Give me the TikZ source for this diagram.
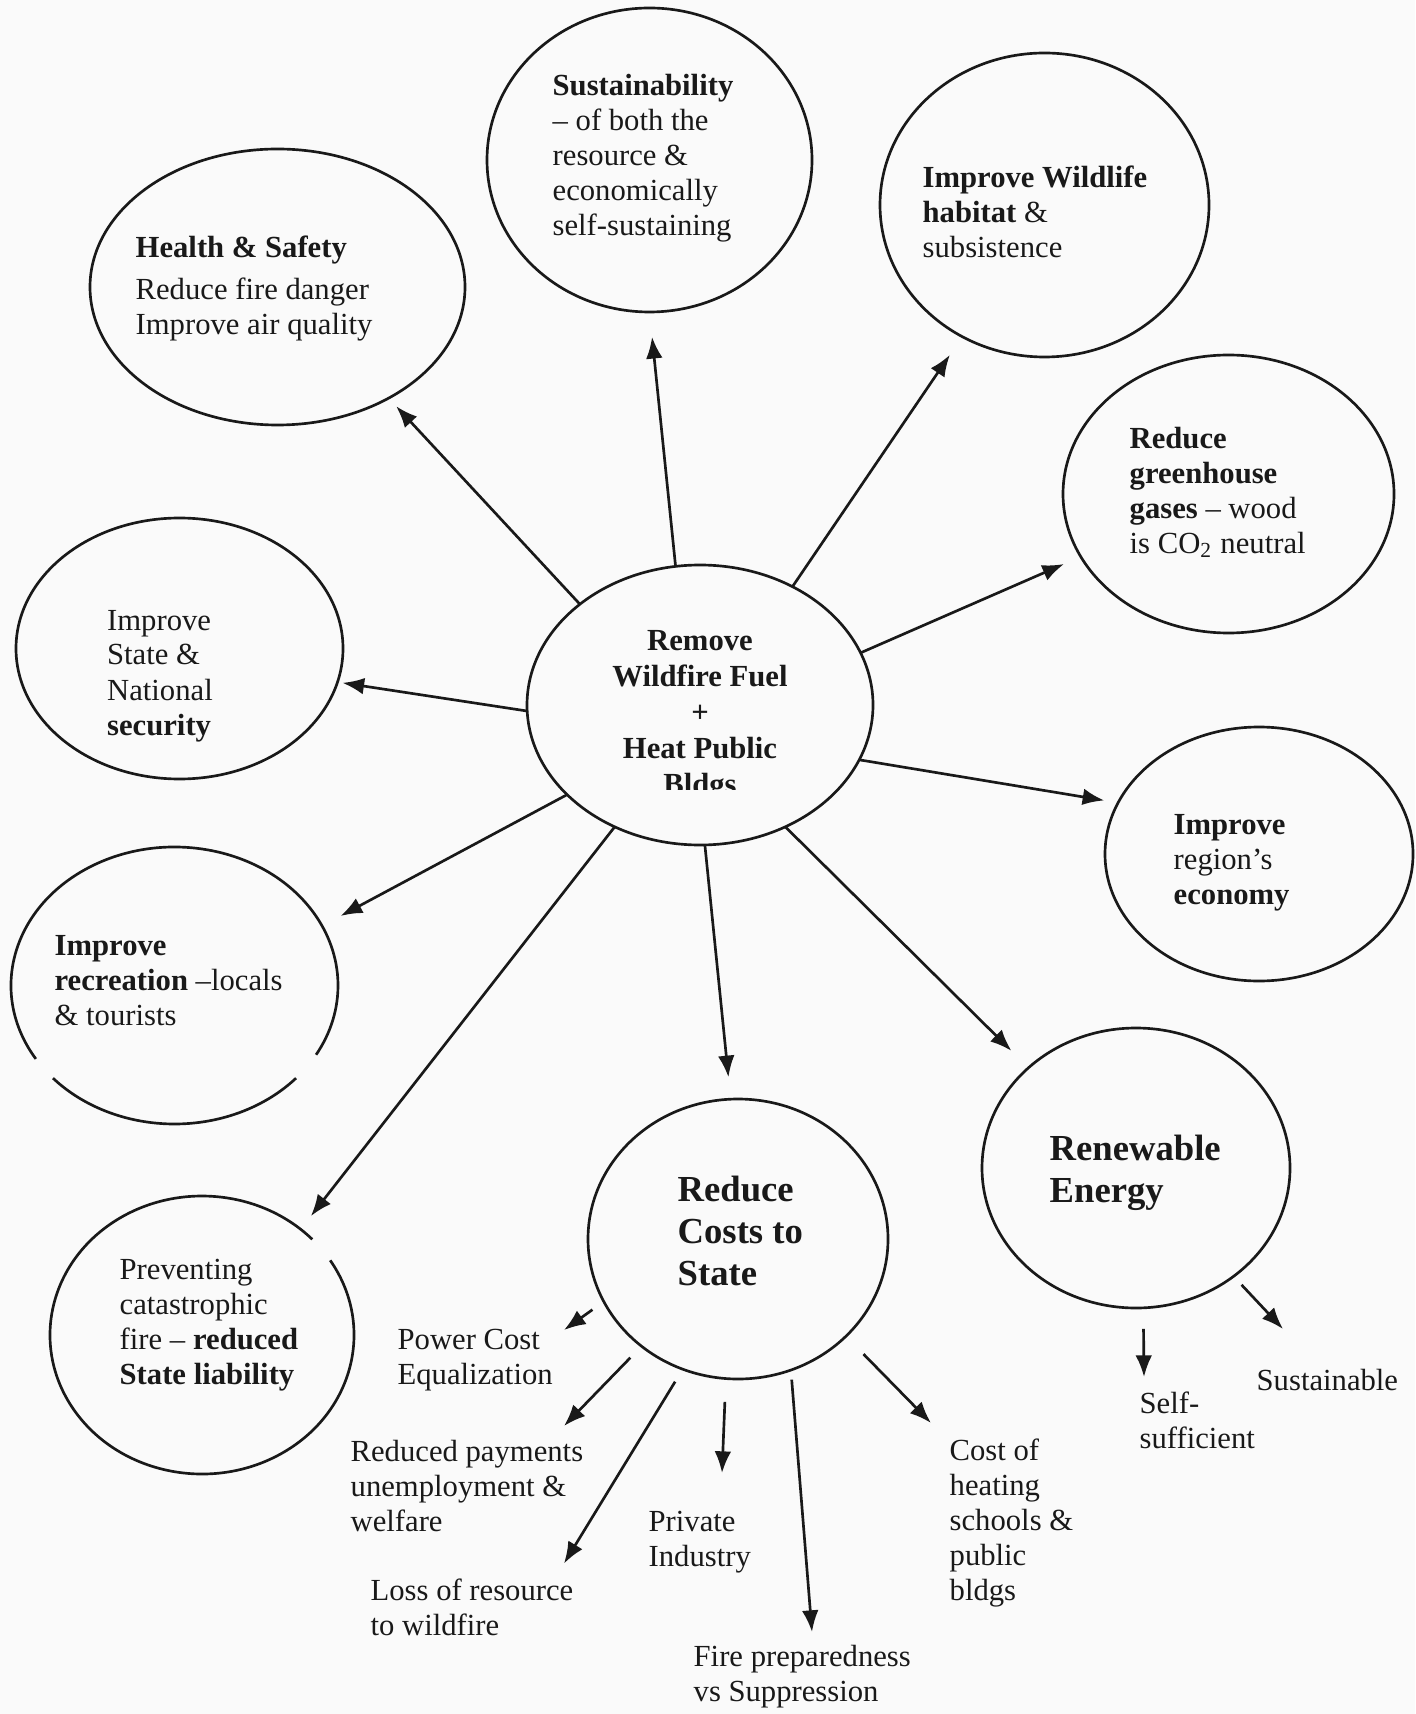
\documentclass[tikz,border=0pt]{standalone}
\usepackage{fontspec}
\setmainfont{Liberation Serif}
\usetikzlibrary{arrows.meta, shapes.geometric}
\definecolor{inkdark}{RGB}{25, 25, 25}
\definecolor{paperwhite}{RGB}{250, 250, 250}
\tikzset{
  bubble/.style 2 args={
    ellipse,
    draw=inkdark,
    line width=0.8pt,
    minimum width=0.6pt*#1,
    minimum height=0.6pt*#2,
    inner sep=0pt,
    outer sep=0pt
  },
  ghostbubble/.style 2 args={
    bubble={#1}{#2},
    draw=none
  },
  outline/.style={
    draw=inkdark,
    line width=0.8pt
  },
  % anchored at the baseline of the last line
  blurb/.style={
    anchor=base west,
    align=left,
    inner sep=0pt,
    text=inkdark,
    font=\fontsize{9.2}{10.5}\selectfont
  },
  bigblurb/.style={
    blurb,
    font=\fontsize{11}{12.5}\selectfont\bfseries
  },
  spoke/.style={
    -{Latex[length=6.5pt,width=5pt]},
    line width=0.8pt,
    draw=inkdark
  }
}

\begin{document}
\begin{tikzpicture}[x=0.3pt, y=-0.3pt]
      \useasboundingbox (0,0) rectangle (1415,1714);
      \fill[paperwhite] (0,0) rectangle (1415,1714);

      % Hub
      \node[bubble={173}{140}] (fuel) at (700,705) {};
      \begin{scope}
        \clip (0,0) rectangle (1415,789);
        \node[blurb, anchor=base, align=center, font=\fontsize{9.2}{10.8}\selectfont\bfseries] (fuel-txt) at (700,794) {Remove\\Wildfire Fuel\\+\\Heat Public\\Bldgs};
      \end{scope}

      % Upper ring
      \node[bubble={187.5}{138}] (health) at (277.5,287) {};
      \node[blurb] (health-txt) at (135,335) {\textbf{Health \& Safety}\\[2.3pt]Reduce fire danger\\Improve air quality};

      \node[bubble={162.5}{152}] (sustain) at (649.5,160) {};
      \node[blurb] (sustain-txt) at (552,236) {\textbf{Sustainability}\\-- of both the\\resource \&\\economically\\self-sustaining};

      \node[bubble={164.5}{152}] (wildlife) at (1044.5,205) {};
      \node[blurb] (wildlife-txt) at (922,258) {\textbf{Improve Wildlife}\\\textbf{habitat} \&\\subsistence};

      \node[bubble={165.5}{139}] (climate) at (1228.5,494) {};
      \node[blurb] (climate-txt) at (1129,554) {\textbf{Reduce}\\\textbf{greenhouse}\\\textbf{gases} -- wood\\is CO\textsubscript{2} neutral};

      % Middle ring
      \node[bubble={163.5}{130.5}] (security) at (179.5,648.5) {};
      \node[blurb] (security-txt) at (106.5,735) {Improve\\State \&\\National\\\textbf{security}};

      \node[bubble={154}{127}] (economy) at (1259,854) {};
      \node[blurb] (economy-txt) at (1173,904) {\textbf{Improve}\\region's\\\textbf{economy}};

      \node[ghostbubble={163.5}{138.5}] (recreate) at (174.5,985.5) {};
      \draw[outline] ([shift={(148:163.5 and 138.5)}]recreate.center) arc[start angle=148, end angle=390, x radius=163.5, y radius=138.5];
      \draw[outline] ([shift={(42:163.5 and 138.5)}]recreate.center) arc[start angle=42, end angle=138, x radius=163.5, y radius=138.5];
      \node[blurb] (recreate-txt) at (54,1025) {\textbf{Improve}\\\textbf{recreation} --locals\\\& tourists};

      % Lower ring
      \node[ghostbubble={152}{139}] (liability) at (202,1335) {};
      \draw[outline] ([shift={(-32.5:152 and 139)}]liability.center) arc[start angle=-32.5, end angle=316.5, x radius=152, y radius=139];
      \node[blurb] (liability-txt) at (119,1384) {Preventing\\catastrophic\\fire -- \textbf{reduced}\\\textbf{State liability}};

      \node[bubble={150}{140}] (costs) at (738,1239) {};
      \node[bigblurb] (costs-txt) at (677,1285) {Reduce\\Costs to\\State};

      \node[bubble={154}{140}] (renew) at (1136,1168) {};
      \node[bigblurb] (renew-txt) at (1049,1202) {Renewable\\Energy};

      % Spokes from the hub
      \draw[spoke, shorten >=3.3pt] (fuel.140.9) -- (health.-45);
      \draw[spoke, shorten >=7.5pt] (fuel.100.9) -- (sustain.-90);
      \draw[spoke, shorten >=6.6pt] (fuel.52.7) -- (wildlife.-122);
      \draw[spoke, shorten >=5.5pt] (fuel.18.1) -- (climate.-157.7);
      \draw[spoke, shorten >=1.5pt] (fuel.182) -- (security.-12);
      \draw[spoke, shorten >=4.2pt] (fuel.-19.1) -- (economy.160);
      \draw[spoke, shorten >=6.3pt] (fuel.-146.1) -- (recreate.22.4);
      \draw[spoke, shorten >=5pt] (fuel.-125.2) -- (liability.47.5);
      \draw[spoke, shorten >=6.6pt] (fuel.-88.8) -- (costs.93.5);
      \draw[spoke, shorten >=7.2pt] (fuel.-55.3) -- (renew.137.8);

      % Cost items
      \node[blurb] (power-txt) at (397,1384) {Power Cost\\Equalization};
      \node[blurb] (welfare-txt) at (350,1531) {Reduced payments\\unemployment \&\\welfare};
      \node[blurb] (loss-txt) at (370,1635) {Loss of resource\\to wildfire};
      \node[blurb] (private-txt) at (648,1566) {Private\\Industry};
      \node[blurb] (fire-txt) at (693,1701) {Fire preparedness\\vs Suppression};
      \node[blurb] (heating-txt) at (949,1600) {Cost of\\heating\\schools \&\\public\\bldgs};
      \coordinate (power-tip) at (564,1330);
      \coordinate (welfare-tip) at (564,1426);
      \coordinate (loss-tip) at (564,1563.5);
      \coordinate (private-tip) at (722,1473);
      \coordinate (fire-tip) at (812,1632);
      \coordinate (heating-tip) at (931,1423);
      \draw[spoke, shorten <=4.2pt] (costs.-155) -- (power-tip);
      \draw[spoke, shorten <=4.8pt] (costs.-132.7) -- (welfare-tip);
      \draw[spoke, shorten <=4.4pt] (costs.-113.8) -- (loss-tip);
      \draw[spoke, shorten <=7pt] (costs.-95.6) -- (private-tip);
      \draw[spoke, shorten <=2.9pt] (costs.-68.2) -- (fire-tip);
      \draw[spoke, shorten <=7.5pt] (costs.-42.2) -- (heating-tip);

      % Energy items
      \node[blurb] (self-txt) at (1139,1448) {Self-\\sufficient};
      \node[blurb] (lasting-txt) at (1256,1390) {Sustainable};
      \coordinate (self-tip) at (1144,1377);
      \coordinate (lasting-tip) at (1283,1329);
      \draw[spoke, shorten <=6.3pt] (renew.-87.2) -- (self-tip);
      \draw[spoke, shorten <=3.5pt] (renew.-48.1) -- (lasting-tip);
\end{tikzpicture}
\end{document}
